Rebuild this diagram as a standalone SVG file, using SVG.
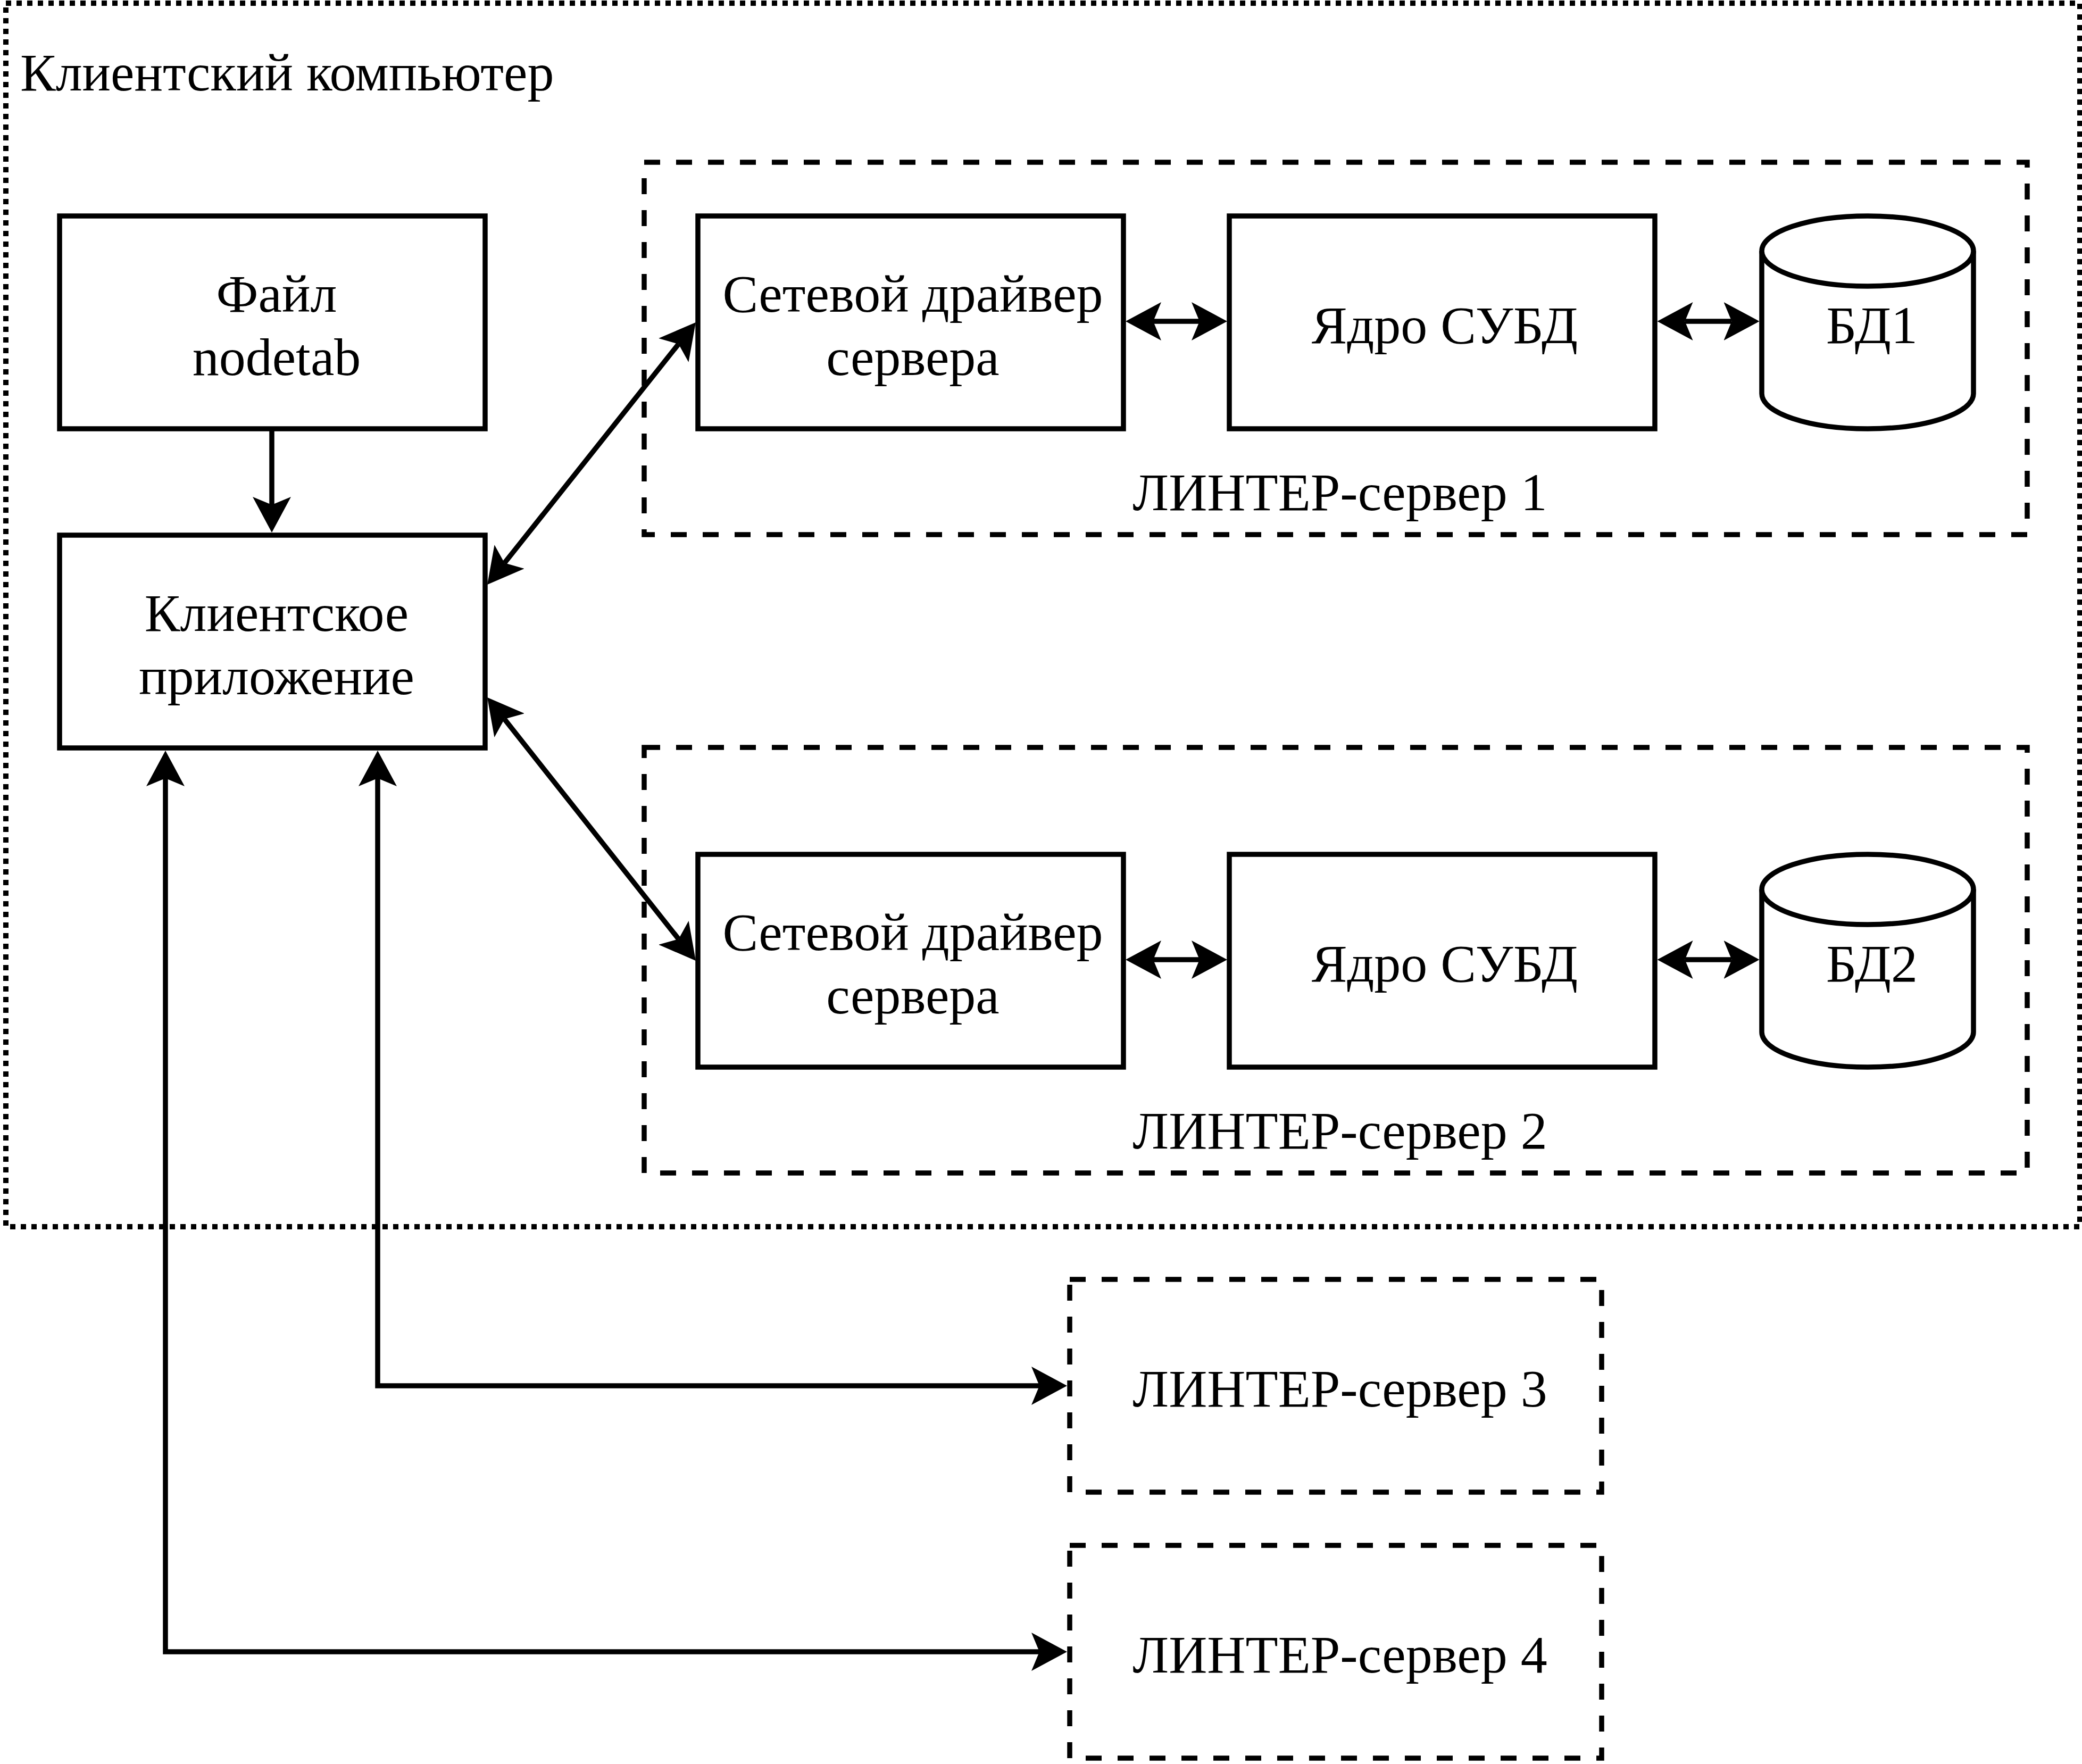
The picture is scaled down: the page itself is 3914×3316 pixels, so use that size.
<svg xmlns="http://www.w3.org/2000/svg" width="3914" height="3316" viewBox="0 0 3914 3316">
<style>
.box{fill:#ffffff;stroke:#000000;stroke-width:9.5}
.dash{fill:none;stroke:#000000;stroke-width:9.5;stroke-dasharray:30 30}
.dot{fill:none;stroke:#000000;stroke-width:10;stroke-dasharray:10 10}
.t{font-family:"Liberation Serif","Times New Roman",serif;font-size:100px;fill:#000000}
.c{text-anchor:middle}
.edge{fill:none;stroke:#000000;stroke-width:9.5}
</style>
<defs>
<marker id="arr" viewBox="0 -36 67 72" markerWidth="67" markerHeight="72" refX="15" refY="0" markerUnits="userSpaceOnUse" orient="auto-start-reverse">
<path d="M0,-36 L67,0 L0,36 L15,0 Z" fill="#000000"/>
</marker>
</defs>
<rect width="3914" height="3316" fill="#ffffff"/>
<g id="client-computer">
<rect class="dot" x="11" y="6" width="3899" height="2300"/>
<text class="t" x="38" y="170">Клиентский компьютер</text>
</g>
<g id="linter1">
<rect class="dash" x="1211" y="305" width="2600" height="700"/>
<text class="t c" x="2519" y="959">ЛИНТЕР-сервер 1</text>
</g>
<g id="linter2">
<rect class="dash" x="1211" y="1405" width="2600" height="800"/>
<text class="t c" x="2519" y="2159">ЛИНТЕР-сервер 2</text>
</g>
<g id="linter3">
<rect class="dash" x="2011" y="2405" width="1000" height="400"/>
<text class="t c" x="2519" y="2644">ЛИНТЕР-сервер 3</text>
</g>
<g id="linter4">
<rect class="dash" x="2011" y="2905" width="1000" height="400"/>
<text class="t c" x="2519" y="3144">ЛИНТЕР-сервер 4</text>
</g>
<g id="nodetab">
<rect class="box" x="112" y="406" width="800" height="400"/>
<text class="t c" x="520" y="586">Файл</text>
<text class="t c" x="520" y="705">nodetab</text>
</g>
<g id="client-app">
<rect class="box" x="112" y="1006" width="800" height="400"/>
<text class="t c" x="520" y="1186">Клиентское</text>
<text class="t c" x="520" y="1305">приложение</text>
</g>
<g id="netdrv1">
<rect class="box" x="1312" y="406" width="800" height="400"/>
<text class="t c" x="1716" y="586">Сетевой драйвер</text>
<text class="t c" x="1716" y="705">сервера</text>
</g>
<g id="core1">
<rect class="box" x="2311" y="406" width="800" height="400"/>
<text class="t c" x="2716" y="645">Ядро СУБД</text>
</g>
<g id="db1">
<path class="box" d="M3312,472 A199,66 0 0 1 3710,472 L3710,740 A199,66 0 0 1 3312,740 Z"/>
<path class="box" fill="none" d="M3312,472 A199,66 0 0 0 3710,472"/>
<text class="t c" x="3519" y="645">БД1</text>
</g>
<g id="netdrv2">
<rect class="box" x="1312" y="1606" width="800" height="400"/>
<text class="t c" x="1716" y="1786">Сетевой драйвер</text>
<text class="t c" x="1716" y="1905">сервера</text>
</g>
<g id="core2">
<rect class="box" x="2311" y="1606" width="800" height="400"/>
<text class="t c" x="2716" y="1845">Ядро СУБД</text>
</g>
<g id="db2">
<path class="box" d="M3312,1672 A199,66 0 0 1 3710,1672 L3710,1940 A199,66 0 0 1 3312,1940 Z"/>
<path class="box" fill="none" d="M3312,1672 A199,66 0 0 0 3710,1672"/>
<text class="t c" x="3519" y="1845">БД2</text>
</g>
<g id="connectors">
<path class="edge" d="M511,806 L511,949" marker-end="url(#arr)"/>
<path class="edge" d="M948.4,1058.3 L1275.6,646.7" marker-start="url(#arr)" marker-end="url(#arr)"/>
<path class="edge" d="M948.3,1351.8 L1275.7,1765.2" marker-start="url(#arr)" marker-end="url(#arr)"/>
<path class="edge" d="M2168,604 L2255,604" marker-start="url(#arr)" marker-end="url(#arr)"/>
<path class="edge" d="M3167.5,604 L3255.5,604" marker-start="url(#arr)" marker-end="url(#arr)"/>
<path class="edge" d="M2168,1804 L2255,1804" marker-start="url(#arr)" marker-end="url(#arr)"/>
<path class="edge" d="M3167.5,1804 L3255.5,1804" marker-start="url(#arr)" marker-end="url(#arr)"/>
<path class="edge" d="M1954,2605 L710,2605 L710,1463" marker-start="url(#arr)" marker-end="url(#arr)"/>
<path class="edge" d="M1954,3105 L311,3105 L311,1463" marker-start="url(#arr)" marker-end="url(#arr)"/>
</g>
</svg>
